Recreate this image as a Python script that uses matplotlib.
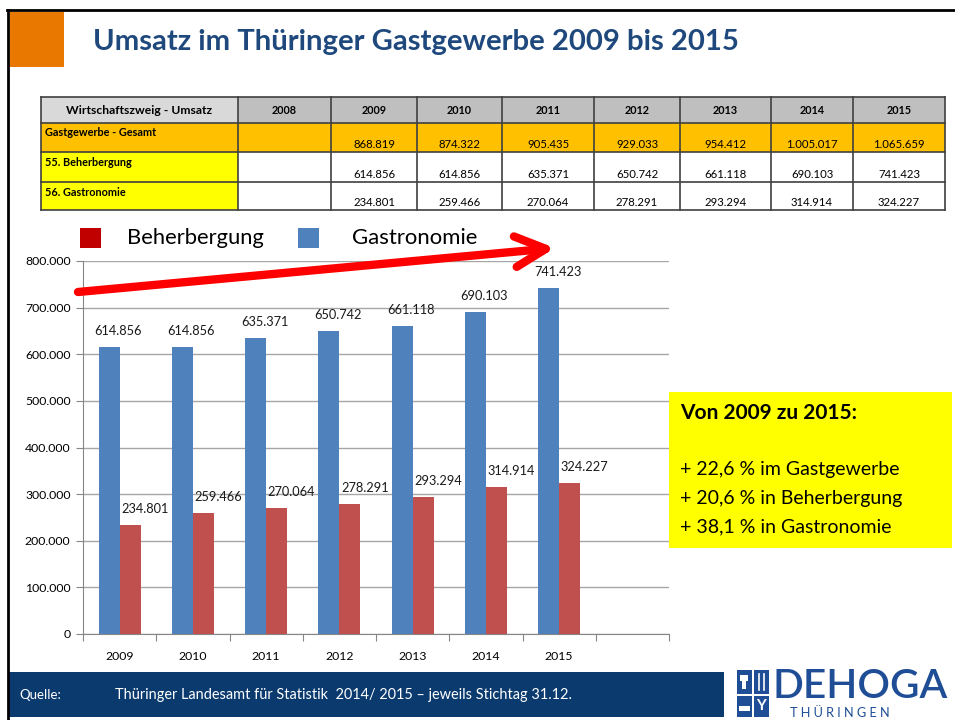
import matplotlib
matplotlib.use("Agg")
import matplotlib.pyplot as plt
from matplotlib.patches import Rectangle
from matplotlib.ticker import FuncFormatter, FixedLocator

plt.rcParams['font.family'] = ['Lato', 'DejaVu Sans']

# data
years = ['2009', '2010', '2011', '2012', '2013', '2014', '2015']
table_years = ['2008'] + years
gesamt = ['', '868.819', '874.322', '905.435', '929.033', '954.412', '1.005.017', '1.065.659']
beherbergung_txt = ['', '614.856', '614.856', '635.371', '650.742', '661.118', '690.103', '741.423']
gastronomie_txt = ['', '234.801', '259.466', '270.064', '278.291', '293.294', '314.914', '324.227']
row_labels = ['Gastgewerbe - Gesamt', '55. Beherbergung', '56. Gastronomie']

# chart bars (as drawn on the slide: blue = 55., red = 56.)
blue_vals = [614856, 614856, 635371, 650742, 661118, 690103, 741423]
red_vals = [234801, 259466, 270064, 278291, 293294, 314914, 324227]
legend_labels = ['Beherbergung', 'Gastronomie']

box_head = 'Von 2009 zu 2015:'
box_lines = ['+ 22,6 % im Gastgewerbe', '+ 20,6 % in Beherbergung', '+ 38,1 % in Gastronomie']

W, H = 955, 720
fig = plt.figure(figsize=(W / 100, H / 100), dpi=100)
bg = fig.add_axes([0, 0, 1, 1])
bg.set_xlim(0, W)
bg.set_ylim(H, 0)
bg.axis('off')
renderer = fig.canvas.get_renderer()


def fit_text(x, y, s, width, size=10, **kw):
    # draw text and rescale font so it spans the given pixel width
    t = bg.text(x, y, s, fontsize=size, **kw)
    w = t.get_window_extent(renderer).width
    t.set_fontsize(size * width / w)
    return t


def fmt_de(v, pos=None):
    return f"{int(v):,}".replace(',', '.')


# frame lines and orange square
bg.plot([7, W], [10, 10], color='black', lw=2)
bg.plot([8, 8], [10, H], color='black', lw=2)
bg.add_patch(Rectangle((10, 12), 54, 55, color='#e87800', lw=0))
fit_text(93, 42, 'Umsatz im Thüringer Gastgewerbe 2009 bis 2015', 647, size=20,
         color='#1f497d', fontweight='bold', va='center')

# table
col_x = [41, 238, 331, 417, 502, 594, 680, 771, 853, 945]
row_y = [97, 123, 152, 182, 210]
bg.add_patch(Rectangle((col_x[0], row_y[0]), col_x[1] - col_x[0], row_y[1] - row_y[0], color='#d9d9d9', lw=0))
bg.add_patch(Rectangle((col_x[1], row_y[0]), col_x[-1] - col_x[1], row_y[1] - row_y[0], color='#bfbfbf', lw=0))
bg.add_patch(Rectangle((col_x[0], row_y[1]), col_x[-1] - col_x[0], row_y[2] - row_y[1], color='#ffc000', lw=0))
for r in (2, 3):
    bg.add_patch(Rectangle((col_x[0], row_y[r]), col_x[1] - col_x[0], row_y[r + 1] - row_y[r], color='#ffff00', lw=0))
for x in col_x:
    bg.plot([x, x], [row_y[0], row_y[-1]], color='#404040', lw=1.2)
for y in row_y:
    bg.plot([col_x[0], col_x[-1]], [y, y], color='#404040', lw=1.2)

fit_text((col_x[0] + col_x[1]) / 2, 111, 'Wirtschaftszweig - Umsatz', 146, size=8,
         fontweight='bold', ha='center', va='center')
for i, yr in enumerate(table_years):
    bg.text((col_x[i + 1] + col_x[i + 2]) / 2, 111, yr, fontsize=7.8, fontweight='bold',
            ha='center', va='center')
for r, lab in enumerate(row_labels):
    bg.text(col_x[0] + 4, row_y[r + 1] + 10, lab, fontsize=7.8, fontweight='bold', va='center')
for r, vals in enumerate([gesamt, beherbergung_txt, gastronomie_txt]):
    for i, v in enumerate(vals):
        bg.text((col_x[i + 1] + col_x[i + 2]) / 2, row_y[r + 2] - 8, v, fontsize=8.2,
                ha='center', va='center')

# bar chart
ax = fig.add_axes([83 / W, (H - 634) / H, (669 - 83) / W, (634 - 261) / H])
ax.patch.set_alpha(0)
pos = list(range(len(years)))
bw = 0.285
ax.bar([p - bw / 2 for p in pos], blue_vals, width=bw, color='#4f81bd', zorder=3)
ax.bar([p + bw / 2 for p in pos], red_vals, width=bw, color='#c0504d', zorder=3)
for p, v in zip(pos, blue_vals):
    ax.annotate(fmt_de(v), xy=(p - bw / 2, v), xytext=(9, 16), textcoords='offset pixels',
                ha='center', va='center', fontsize=9.2, color='#1a1a1a')
for p, v in zip(pos, red_vals):
    ax.annotate(fmt_de(v), xy=(p + bw / 2, v), xytext=(15, 16), textcoords='offset pixels',
                ha='center', va='center', fontsize=9.2, color='#1a1a1a')
ax.set_xlim(-0.5, 7.5)
ax.set_ylim(0, 800000)
ax.yaxis.set_major_locator(FixedLocator(range(0, 800001, 100000)))
ax.yaxis.set_major_formatter(FuncFormatter(fmt_de))
ax.yaxis.grid(True, color='#a6a6a6', lw=1, zorder=0)
ax.xaxis.set_major_locator(FixedLocator([i - 0.5 for i in range(9)]))
ax.xaxis.set_major_formatter(FuncFormatter(lambda v, p: ''))
ax.xaxis.set_minor_locator(FixedLocator(pos))
ax.set_xticklabels(years, minor=True)
ax.tick_params(axis='x', which='minor', length=0, pad=12, labelsize=8.8)
ax.tick_params(axis='x', which='major', length=5, color='#868686')
ax.tick_params(axis='y', length=5, color='#868686', labelsize=8.8, pad=4)
for s in ('top', 'right'):
    ax.spines[s].set_visible(False)
for s in ('left', 'bottom'):
    ax.spines[s].set_color('#868686')

# overlay for the arrow (drawn above the chart)
top = fig.add_axes([0, 0, 1, 1])
top.set_xlim(0, W)
top.set_ylim(H, 0)
top.axis('off')

# legend
top.add_patch(Rectangle((80, 228), 21, 20, color='#c00000', lw=0))
fit_text(127, 238, legend_labels[0], 137, size=15, va='center')
top.add_patch(Rectangle((298, 228), 21, 20, color='#4f81bd', lw=0))
fit_text(352, 238, legend_labels[1], 126, size=15, va='center')

# red trend arrow
top.annotate('', xy=(555, 248), xytext=(78, 292),
             arrowprops=dict(arrowstyle='->,head_length=2.2,head_width=1.1', color='#ff0000',
                             lw=6, mutation_scale=10, shrinkA=0, shrinkB=0))

# yellow box
bg.add_patch(Rectangle((669, 392), 283, 156, color='#ffff00', lw=0))
fit_text(680, 413, box_head, 178, size=14, fontweight='bold', va='center')
for i, line in enumerate(box_lines):
    bg.text(680, 470 + 28.5 * i, line, fontsize=14, va='center')

# footer
bg.add_patch(Rectangle((9, 672), 715, 45, color='#0b3a6f', lw=0))
bg.text(19, 695, 'Quelle:', color='white', fontsize=9.5, va='center')
fit_text(115, 695, 'Thüringer Landesamt für Statistik  2014/ 2015 \u2013 jeweils Stichtag 31.12.', 458,
         size=9, color='white', va='center')

# logo
logo = '#1f4e96'
for (lx, ly, lw_, lh) in [(737, 670, 15, 24), (754, 670, 15, 24), (737, 696, 15, 21), (754, 696, 15, 21)]:
    bg.add_patch(Rectangle((lx, ly), lw_, lh, color=logo, lw=0))
bg.add_patch(Rectangle((740, 675), 8, 6, color='white', lw=0))
bg.add_patch(Rectangle((742, 681), 4, 8, color='white', lw=0))
bg.plot([759, 759], [674, 690], color='white', lw=1.2)
bg.plot([764, 764], [674, 690], color='white', lw=1.2)
bg.add_patch(Rectangle((739, 706), 11, 5, color='white', lw=0))
bg.text(761.5, 706, 'Y', color='white', fontsize=11, fontweight='bold', ha='center', va='center')
fit_text(772, 687, 'DEHOGA', 175, size=26, color=logo, va='center', fontweight='semibold')
fit_text(790, 713, 'T H Ü R I N G E N', 100, size=7, color=logo, va='center')

fig.savefig('out.png', dpi=100)
